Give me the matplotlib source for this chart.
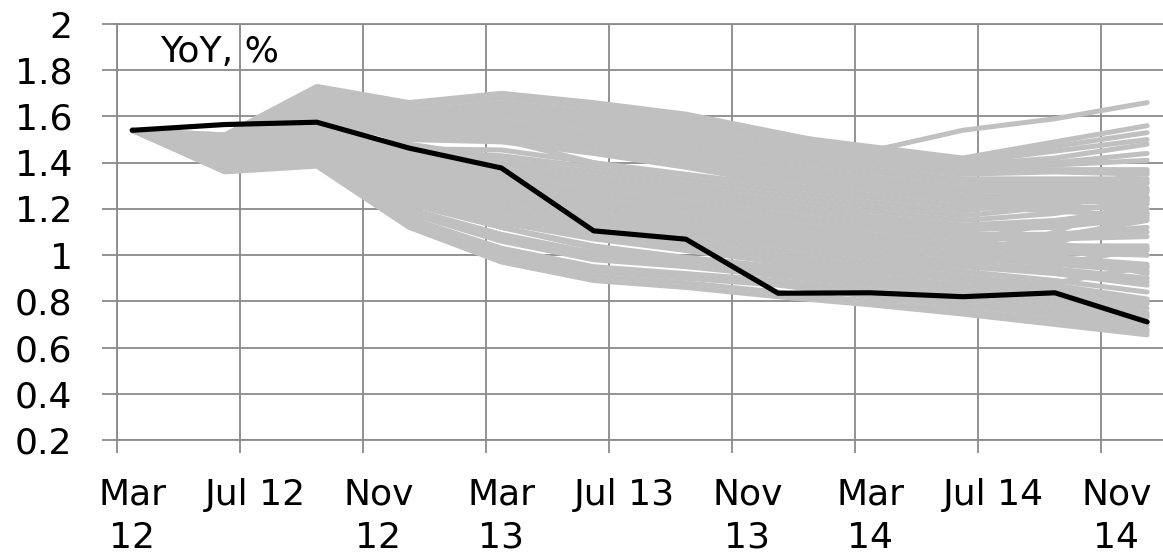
import numpy as np
import matplotlib
matplotlib.use("Agg")
import matplotlib.pyplot as plt

# quarterly observations, Mar 12 .. Dec 14
quarters = ['Mar 12', 'Jun 12', 'Sep 12', 'Dec 12', 'Mar 13', 'Jun 13',
            'Sep 13', 'Dec 13', 'Mar 14', 'Jun 14', 'Sep 14', 'Dec 14']

# actual YoY
actual = [1.54, 1.565, 1.575, 1.463, 1.377, 1.105, 1.069, 0.835, 0.837, 0.82, 0.837, 0.711]

# simulated paths (grey)
upper_paths = [
    [1.54, 1.52, 1.73, 1.66, 1.70, 1.66, 1.61, 1.53, 1.45, 1.54, 1.59, 1.66],
    [1.54, 1.51, 1.72, 1.65, 1.69, 1.65, 1.59, 1.52, 1.47, 1.42, 1.49, 1.56],
    [1.54, 1.51, 1.71, 1.64, 1.68, 1.64, 1.58, 1.51, 1.46, 1.41, 1.47, 1.53],
    [1.54, 1.50, 1.70, 1.62, 1.66, 1.62, 1.57, 1.50, 1.44, 1.40, 1.45, 1.50],
    [1.54, 1.50, 1.69, 1.61, 1.65, 1.61, 1.55, 1.48, 1.43, 1.39, 1.42, 1.48],
    [1.54, 1.495, 1.685, 1.605, 1.635, 1.585, 1.53, 1.46, 1.41, 1.37, 1.39, 1.41],
    [1.54, 1.49, 1.68, 1.60, 1.64, 1.59, 1.54, 1.47, 1.42, 1.38, 1.40, 1.44],
    [1.54, 1.49, 1.67, 1.59, 1.62, 1.58, 1.52, 1.45, 1.40, 1.36, 1.37, 1.37],
    [1.54, 1.48, 1.66, 1.58, 1.61, 1.56, 1.51, 1.44, 1.39, 1.35, 1.36, 1.35],
    [1.54, 1.48, 1.65, 1.57, 1.60, 1.55, 1.49, 1.43, 1.37, 1.33, 1.33, 1.33],
    [1.54, 1.47, 1.64, 1.56, 1.58, 1.53, 1.48, 1.41, 1.36, 1.31, 1.31, 1.31],
    [1.54, 1.475, 1.635, 1.555, 1.565, 1.515, 1.455, 1.385, 1.33, 1.285, 1.28, 1.28],
    [1.54, 1.47, 1.63, 1.55, 1.57, 1.52, 1.46, 1.39, 1.34, 1.29, 1.29, 1.29],
    [1.54, 1.46, 1.62, 1.54, 1.55, 1.50, 1.45, 1.38, 1.32, 1.28, 1.27, 1.27],
    [1.54, 1.46, 1.61, 1.53, 1.54, 1.49, 1.43, 1.36, 1.31, 1.26, 1.25, 1.25],
    [1.54, 1.455, 1.605, 1.525, 1.53, 1.48, 1.42, 1.345, 1.295, 1.245, 1.24, 1.24],
    [1.54, 1.45, 1.60, 1.52, 1.52, 1.47, 1.42, 1.35, 1.29, 1.24, 1.23, 1.23],
    [1.54, 1.45, 1.59, 1.51, 1.51, 1.46, 1.40, 1.33, 1.28, 1.23, 1.21, 1.20],
    [1.54, 1.44, 1.58, 1.50, 1.49, 1.44, 1.38, 1.31, 1.26, 1.21, 1.19, 1.17],
]
middle_paths = [
    [1.54, 1.52, 1.57, 1.46, 1.455, 1.40, 1.35, 1.30, 1.25, 1.21, 1.27, 1.36],
    [1.54, 1.51, 1.56, 1.45, 1.43, 1.38, 1.33, 1.28, 1.23, 1.19, 1.24, 1.32],
    [1.54, 1.50, 1.55, 1.43, 1.41, 1.36, 1.31, 1.26, 1.21, 1.17, 1.21, 1.28],
    [1.54, 1.49, 1.54, 1.42, 1.39, 1.34, 1.29, 1.24, 1.19, 1.15, 1.18, 1.24],
    [1.54, 1.48, 1.53, 1.41, 1.37, 1.32, 1.27, 1.22, 1.17, 1.13, 1.15, 1.20],
    [1.54, 1.455, 1.545, 1.40, 1.36, 1.31, 1.26, 1.21, 1.16, 1.12, 1.135, 1.18],
    [1.54, 1.47, 1.52, 1.39, 1.35, 1.30, 1.25, 1.20, 1.15, 1.11, 1.12, 1.16],
    [1.54, 1.46, 1.51, 1.38, 1.33, 1.28, 1.23, 1.18, 1.13, 1.09, 1.09, 1.12],
    [1.54, 1.435, 1.515, 1.36, 1.32, 1.27, 1.22, 1.17, 1.12, 1.08, 1.08, 1.10],
    [1.54, 1.45, 1.50, 1.37, 1.31, 1.26, 1.21, 1.16, 1.11, 1.07, 1.07, 1.08],
    [1.54, 1.44, 1.49, 1.35, 1.29, 1.24, 1.19, 1.14, 1.09, 1.05, 1.04, 1.04],
    [1.54, 1.425, 1.49, 1.345, 1.28, 1.23, 1.18, 1.13, 1.08, 1.04, 1.025, 1.02],
    [1.54, 1.43, 1.48, 1.34, 1.27, 1.22, 1.17, 1.12, 1.07, 1.03, 1.01, 1.00],
    [1.54, 1.43, 1.47, 1.33, 1.25, 1.20, 1.15, 1.10, 1.05, 1.01, 0.99, 0.96],
    [1.54, 1.415, 1.47, 1.32, 1.24, 1.19, 1.14, 1.09, 1.04, 1.00, 0.975, 0.945],
    [1.54, 1.42, 1.46, 1.31, 1.23, 1.18, 1.13, 1.08, 1.03, 0.99, 0.96, 0.93],
    [1.54, 1.41, 1.45, 1.30, 1.21, 1.16, 1.11, 1.06, 1.01, 0.97, 0.94, 0.90],
    [1.54, 1.405, 1.45, 1.29, 1.20, 1.15, 1.10, 1.05, 1.00, 0.96, 0.93, 0.885],
    [1.54, 1.41, 1.44, 1.28, 1.19, 1.14, 1.09, 1.04, 0.99, 0.95, 0.92, 0.87],
    [1.54, 1.40, 1.44, 1.27, 1.17, 1.12, 1.07, 1.02, 0.97, 0.93, 0.89, 0.84],
    [1.54, 1.40, 1.43, 1.26, 1.16, 1.10, 1.05, 1.00, 0.95, 0.91, 0.87, 0.81],
]
lower_paths = [
    [1.54, 1.395, 1.43, 1.25, 1.15, 1.085, 1.035, 0.985, 0.94, 0.90, 0.86, 0.80],
    [1.54, 1.39, 1.42, 1.24, 1.14, 1.07, 1.02, 0.97, 0.93, 0.89, 0.85, 0.79],
    [1.54, 1.39, 1.42, 1.22, 1.12, 1.04, 0.99, 0.95, 0.91, 0.87, 0.83, 0.77],
    [1.54, 1.38, 1.41, 1.20, 1.09, 1.01, 0.97, 0.93, 0.89, 0.85, 0.81, 0.75],
    [1.54, 1.375, 1.405, 1.19, 1.075, 0.995, 0.96, 0.92, 0.88, 0.84, 0.80, 0.74],
    [1.54, 1.38, 1.41, 1.18, 1.06, 0.98, 0.95, 0.91, 0.87, 0.83, 0.79, 0.73],
    [1.54, 1.37, 1.40, 1.16, 1.03, 0.95, 0.92, 0.89, 0.85, 0.81, 0.77, 0.71],
    [1.54, 1.365, 1.395, 1.15, 1.015, 0.94, 0.91, 0.88, 0.835, 0.795, 0.755, 0.695],
    [1.54, 1.37, 1.40, 1.14, 1.00, 0.93, 0.90, 0.87, 0.82, 0.78, 0.74, 0.68],
    [1.54, 1.365, 1.39, 1.13, 0.98, 0.91, 0.88, 0.84, 0.80, 0.76, 0.72, 0.67],
    [1.54, 1.36, 1.385, 1.12, 0.97, 0.89, 0.86, 0.82, 0.785, 0.745, 0.70, 0.655],
]
crossing_paths = [
    [1.54, 1.44, 1.50, 1.30, 1.20, 1.10, 1.02, 0.97, 0.95, 0.98, 1.10, 1.25],
    [1.54, 1.42, 1.47, 1.25, 1.12, 1.03, 0.98, 0.94, 0.92, 0.96, 1.05, 1.18],
    [1.54, 1.47, 1.58, 1.40, 1.38, 1.33, 1.28, 1.22, 1.15, 1.08, 1.00, 0.92],
    [1.54, 1.46, 1.56, 1.38, 1.30, 1.20, 1.12, 1.05, 1.00, 1.02, 1.08, 1.15],
    [1.54, 1.50, 1.65, 1.55, 1.50, 1.40, 1.30, 1.22, 1.15, 1.10, 1.05, 1.00],
    [1.54, 1.45, 1.52, 1.36, 1.28, 1.16, 1.06, 0.98, 0.90, 0.85, 0.88, 0.95],
    [1.54, 1.43, 1.55, 1.44, 1.35, 1.24, 1.14, 1.07, 1.03, 1.06, 1.14, 1.22],
    [1.54, 1.48, 1.62, 1.48, 1.42, 1.30, 1.18, 1.10, 1.06, 1.00, 0.96, 1.03],
]

# month axis labels (every 4 months from Mar 12)
tick_labels = ['Mar\n12', 'Jul 12', 'Nov\n12', 'Mar\n13', 'Jul 13',
               'Nov\n13', 'Mar\n14', 'Jul 14', 'Nov\n14']
y_ticks = [0.2, 0.4, 0.6, 0.8, 1, 1.2, 1.4, 1.6, 1.8, 2]
y_labels = ['0.2', '0.4', '0.6', '0.8', '1', '1.2', '1.4', '1.6', '1.8', '2']

grid_col = '#8a8a8a'
grey = '#c0c0c0'
fs = 26

W, H = 1163, 556
fig = plt.figure(figsize=(W / 100, H / 100), dpi=100)
ax = fig.add_axes([117 / W, 1 - 440 / H, (1162.5 - 117) / W, (440 - 24) / H])

# months since Mar 12, each point in the middle of its month
x = np.arange(len(quarters)) * 3 + 0.5

for p in upper_paths + middle_paths + lower_paths + crossing_paths:
    ax.plot(x, p, color=grey, lw=3.6, solid_capstyle='round',
            solid_joinstyle='round', zorder=2)
ax.plot(x, actual, color='black', lw=3.7, solid_capstyle='round',
        solid_joinstyle='round', zorder=3)

ax.set_xlim(0, 34)
ax.set_ylim(0.2, 2)

major = np.arange(0, 34, 4)
ax.set_xticks(major)
ax.set_xticklabels([''] * len(major))
ax.set_xticks(major + 0.5, minor=True)
ax.set_xticklabels(tick_labels, minor=True, fontsize=fs, linespacing=1.35)
ax.tick_params(axis='x', which='major', direction='out', length=9,
               width=1.3, color=grid_col)
ax.tick_params(axis='x', which='minor', length=0, pad=27)

ax.set_yticks(y_ticks)
ax.set_yticklabels(y_labels, fontsize=fs)
ax.tick_params(axis='y', direction='out', length=11, width=1.3,
               color=grid_col, pad=21)

ax.grid(True, which='major', color=grid_col, lw=1.3)
ax.set_axisbelow(True)
for s in ['left', 'bottom', 'top']:
    ax.spines[s].set_color(grid_col)
    ax.spines[s].set_linewidth(1.3)
ax.spines['right'].set_visible(False)

fig.text(160 / W, 1 - 52 / H, 'YoY, %', fontsize=fs, va='center', ha='left')

fig.savefig('out.png', dpi=100)
